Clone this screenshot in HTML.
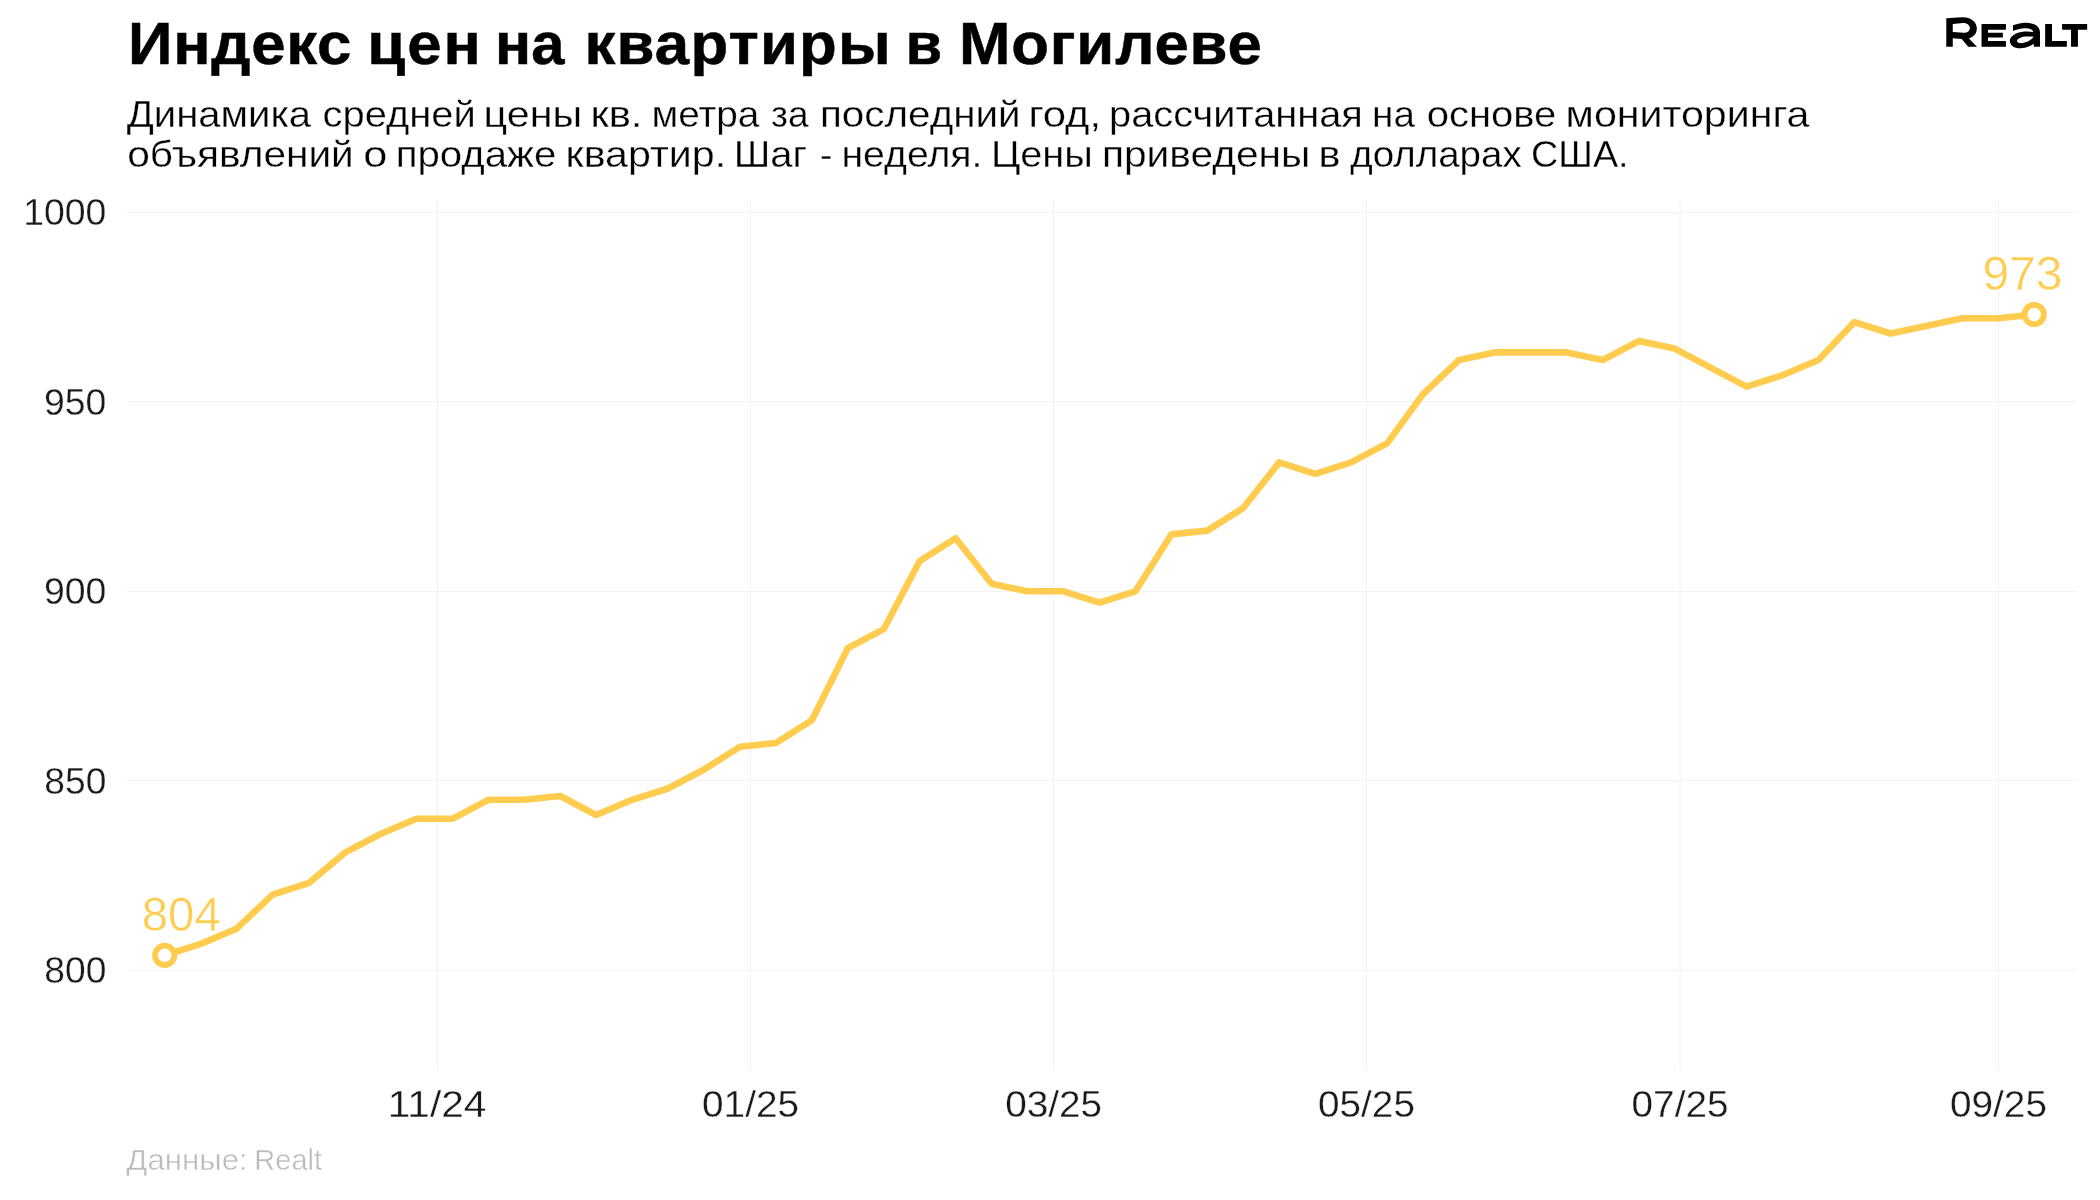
<!DOCTYPE html>
<html lang="ru"><head><meta charset="utf-8"><title>Индекс цен на квартиры в Могилеве</title>
<style>
html,body{margin:0;padding:0;background:#fff;}
body{width:2100px;height:1200px;overflow:hidden;font-family:"Liberation Sans",sans-serif;}
svg{display:block;will-change:transform;}
text{font-family:"Liberation Sans",sans-serif;}
.title{font-weight:bold;font-size:60px;fill:#000;stroke:#000;stroke-width:0.5px;}
.sub{font-size:36.7px;fill:#000;stroke:#fff;stroke-width:0.3px;}
.ax{font-size:36.5px;fill:#1a1a1a;stroke:#fff;stroke-width:0.3px;}
.cap{font-size:29.6px;fill:#bbbbbb;stroke:#fff;stroke-width:0.4px;}
.lab{font-size:48.5px;fill:#ffcc4f;stroke:#fff;stroke-width:0.5px;}
.grid line{stroke:#f2f2f2;stroke-width:1;}
</style></head><body>
<svg width="2100" height="1200" viewBox="0 0 2100 1200">
<text class="title" transform="scale(1.0300,1)" x="124.40 168.21 205.12 243.88 277.94 307.86" y="64.2">Индекс</text>
<text class="title" transform="scale(1.0300,1)" x="356.58 395.28 430.48" y="64.2">цен</text>
<text class="title" transform="scale(0.9962,1)" x="497.01 533.24" y="64.2">на</text>
<text class="title" transform="scale(1.0300,1)" x="567.45 598.58 635.80 670.29 707.27 737.78 775.77 813.55" y="64.2">квартиры</text>
<text class="title" transform="scale(0.9950,1)" x="909.93" y="64.2">в</text>
<text class="title" transform="scale(1.0300,1)" x="931.10 981.84 1019.27 1045.02 1082.69 1120.79 1154.92 1191.78" y="64.2">Могилеве</text>
<text class="sub" x="126.68" y="127.0" textLength="184.36" lengthAdjust="spacingAndGlyphs">Динамика</text>
<text class="sub" x="322.52" y="127.0" textLength="153.16" lengthAdjust="spacingAndGlyphs">средней</text>
<text class="sub" x="483.64" y="127.0" textLength="98.58" lengthAdjust="spacingAndGlyphs">цены</text>
<text class="sub" x="590.41" y="127.0" textLength="52.02" lengthAdjust="spacingAndGlyphs">кв.</text>
<text class="sub" x="651.51" y="127.0" textLength="107.77" lengthAdjust="spacingAndGlyphs">метра</text>
<text class="sub" x="771.14" y="127.0" textLength="37.59" lengthAdjust="spacingAndGlyphs">за</text>
<text class="sub" x="820.00" y="127.0" textLength="200.64" lengthAdjust="spacingAndGlyphs">последний</text>
<text class="sub" x="1028.41" y="127.0" textLength="72.58" lengthAdjust="spacingAndGlyphs">год,</text>
<text class="sub" x="1109.14" y="127.0" textLength="253.75" lengthAdjust="spacingAndGlyphs">рассчитанная</text>
<text class="sub" x="1372.12" y="127.0" textLength="42.85" lengthAdjust="spacingAndGlyphs">на</text>
<text class="sub" x="1426.82" y="127.0" textLength="129.44" lengthAdjust="spacingAndGlyphs">основе</text>
<text class="sub" x="1565.64" y="127.0" textLength="243.88" lengthAdjust="spacingAndGlyphs">мониторинга</text>
<text class="sub" x="127.29" y="167.0" textLength="226.47" lengthAdjust="spacingAndGlyphs">объявлений</text>
<text class="sub" x="363.18" y="167.0" textLength="24.01" lengthAdjust="spacingAndGlyphs">о</text>
<text class="sub" x="395.71" y="167.0" textLength="160.52" lengthAdjust="spacingAndGlyphs">продаже</text>
<text class="sub" x="565.64" y="167.0" textLength="160.49" lengthAdjust="spacingAndGlyphs">квартир.</text>
<text class="sub" x="733.68" y="167.0" textLength="73.44" lengthAdjust="spacingAndGlyphs">Шаг</text>
<text class="sub" x="820.07" y="167.0" textLength="12.43" lengthAdjust="spacingAndGlyphs">-</text>
<text class="sub" x="841.48" y="167.0" textLength="140.93" lengthAdjust="spacingAndGlyphs">неделя.</text>
<text class="sub" x="990.90" y="167.0" textLength="101.88" lengthAdjust="spacingAndGlyphs">Цены</text>
<text class="sub" x="1101.98" y="167.0" textLength="208.20" lengthAdjust="spacingAndGlyphs">приведены</text>
<text class="sub" x="1318.43" y="167.0" textLength="22.02" lengthAdjust="spacingAndGlyphs">в</text>
<text class="sub" x="1350.19" y="167.0" textLength="171.52" lengthAdjust="spacingAndGlyphs">долларах</text>
<text class="sub" x="1530.95" y="167.0" textLength="97.70" lengthAdjust="spacingAndGlyphs">США.</text>
<g class="grid"><line x1="127" x2="2077" y1="970.3" y2="970.3"/><line x1="127" x2="2077" y1="780.5" y2="780.5"/><line x1="127" x2="2077" y1="591.4" y2="591.4"/><line x1="127" x2="2077" y1="401.5" y2="401.5"/><line x1="127" x2="2077" y1="212.45" y2="212.45"/><line x1="437.5" x2="437.5" y1="199" y2="1070.8"/><line x1="750.5" x2="750.5" y1="199" y2="1070.8"/><line x1="1053.6" x2="1053.6" y1="199" y2="1070.8"/><line x1="1366.4" x2="1366.4" y1="199" y2="1070.8"/><line x1="1680.0" x2="1680.0" y1="199" y2="1070.8"/><line x1="1998.45" x2="1998.45" y1="199" y2="1070.8"/></g>
<text class="ax" x="44.32" y="983" textLength="62.06" lengthAdjust="spacingAndGlyphs">800</text>
<text class="ax" x="44.32" y="794" textLength="62.06" lengthAdjust="spacingAndGlyphs">850</text>
<text class="ax" x="44.06" y="604" textLength="62.33" lengthAdjust="spacingAndGlyphs">900</text>
<text class="ax" x="44.06" y="415" textLength="62.33" lengthAdjust="spacingAndGlyphs">950</text>
<text class="ax" x="23.23" y="225" textLength="83.21" lengthAdjust="spacingAndGlyphs">1000</text>
<text class="ax" x="387.79" y="1117" textLength="98.63" lengthAdjust="spacingAndGlyphs">11/24</text>
<text class="ax" x="702.06" y="1117" textLength="96.98" lengthAdjust="spacingAndGlyphs">01/25</text>
<text class="ax" x="1005.16" y="1117" textLength="96.98" lengthAdjust="spacingAndGlyphs">03/25</text>
<text class="ax" x="1317.96" y="1117" textLength="96.98" lengthAdjust="spacingAndGlyphs">05/25</text>
<text class="ax" x="1631.56" y="1117" textLength="96.98" lengthAdjust="spacingAndGlyphs">07/25</text>
<text class="ax" x="1950.01" y="1117" textLength="96.98" lengthAdjust="spacingAndGlyphs">09/25</text>
<polyline points="164.7,955.3 200.7,943.9 236.6,928.7 272.6,894.6 308.5,883.2 344.5,852.9 380.4,834.0 416.4,818.8 452.3,818.8 488.3,799.8 524.2,799.8 560.2,796.0 596.1,815.0 632.1,799.8 668.0,788.5 704.0,769.5 739.9,746.8 775.9,743.0 811.8,720.2 847.8,648.2 883.7,629.2 919.7,561.0 955.6,538.2 991.6,583.7 1027.5,591.3 1063.5,591.3 1099.5,602.7 1135.4,591.3 1171.4,534.4 1207.3,530.6 1243.3,507.9 1279.2,462.4 1315.2,473.8 1351.1,462.4 1387.1,443.4 1423.0,394.1 1459.0,360.0 1494.9,352.4 1530.9,352.4 1566.8,352.4 1602.8,360.0 1638.7,341.1 1674.7,348.6 1710.6,367.6 1746.6,386.6 1782.5,375.2 1818.5,360.0 1854.4,322.1 1890.4,333.5 1926.3,325.9 1962.3,318.3 1998.2,318.3 2034.2,314.5" fill="none" stroke="#ffcc4f" stroke-width="6.6" stroke-linejoin="round" stroke-linecap="butt"/>
<circle cx="164.7" cy="955.3" r="9.68" fill="#fff" stroke="#ffcc4f" stroke-width="5.8"/>
<circle cx="2034.2" cy="314.5" r="9.68" fill="#fff" stroke="#ffcc4f" stroke-width="5.8"/>
<text class="lab" x="141.70" y="930.9" textLength="79.04" lengthAdjust="spacingAndGlyphs">804</text><text class="lab" x="1982.42" y="289.6" textLength="80.08" lengthAdjust="spacingAndGlyphs">973</text>
<text class="cap" x="126.34" y="1170" textLength="121.35" lengthAdjust="spacingAndGlyphs">Данные:</text>
<text class="cap" x="254.35" y="1170" textLength="67.64" lengthAdjust="spacingAndGlyphs">Realt</text>
<g id="logo" fill="#000">
<g transform="translate(1940,10) scale(0.0380952)">
<path fill-rule="evenodd" d="M165,215 L560,190 C700,185 820,220 900,310 C960,380 985,480 955,570 C930,650 860,710 760,745 L970,965 L740,965 L570,760 L335,740 L335,965 L165,965 Z M335,365 L600,340 C700,340 780,390 785,470 C785,550 720,600 620,600 L335,580 Z"/>
<path d="M1090,370 H1730 V520 H1260 V595 H1650 V720 H1260 V815 H1730 V965 H1090 Z"/>
</g>
<g transform="translate(2000,10) scale(0.0380952)">
<path fill-rule="evenodd" d="M340,400 C500,350 620,335 700,335 C880,340 1040,420 1050,580 L1050,965 L890,965 L885,885 C820,940 700,990 540,1005 C370,1008 258,925 258,805 C262,700 380,600 600,568 C700,558 800,565 880,580 C860,520 780,480 650,480 C540,485 430,515 340,552 Z M880,705 C800,690 700,688 600,705 C500,735 445,780 445,812 C450,850 500,870 570,870 C700,860 830,790 880,705 Z"/>
<path d="M1185,370 H1365 V815 H1755 V965 H1185 Z"/>
<path d="M1630,370 H2288 V520 H2045 V965 H1865 V520 H1630 Z"/>
</g>
</g>

</svg>
</body></html>
